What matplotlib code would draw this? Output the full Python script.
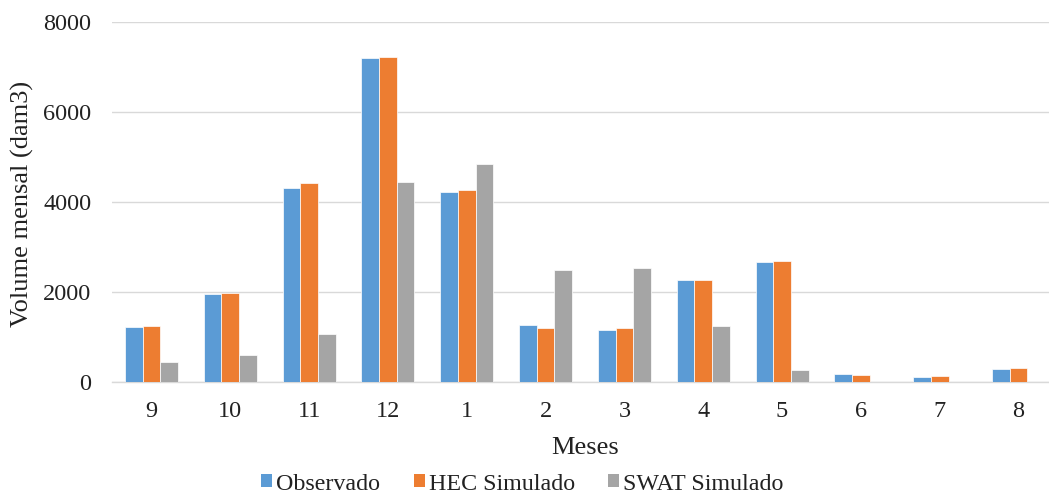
import matplotlib
matplotlib.use("Agg")
import matplotlib.pyplot as plt
import numpy as np
from matplotlib.patches import Patch

# Monthly volumes (dam3), hydrological year Sep -> Aug
months = ["9", "10", "11", "12", "1", "2", "3", "4", "5", "6", "7", "8"]
observado = [1210, 1945, 4310, 7210, 4230, 1260, 1140, 2260, 2655, 170, 110, 290]
hec_simulado = [1235, 1965, 4410, 7215, 4255, 1205, 1185, 2260, 2685, 140, 125, 310]
swat_simulado = [430, 590, 1055, 4440, 4845, 2495, 2530, 1230, 255, 0, 0, 0]

series_names = ["Observado", "HEC Simulado", "SWAT Simulado"]
colors = ["#5B9BD5", "#ED7D31", "#A5A5A5"]
text_color = "#222222"

plt.rcParams["font.family"] = ["Liberation Serif", "DejaVu Serif"]

W, H = 1049, 494
fig = plt.figure(figsize=(W / 100, H / 100), dpi=100)
left_px, right_px, top_px, bottom_px = 112, 1058, 22, 381.7
ax = fig.add_axes([left_px / W, 1 - bottom_px / H,
                   (right_px - left_px) / W, (bottom_px - top_px) / H])

x = np.arange(len(months))
w = 0.224
for k, (vals, c) in enumerate(zip([observado, hec_simulado, swat_simulado], colors)):
    ax.bar(x + (k - 1) * w, vals, width=w, color=c, edgecolor="white",
           linewidth=0.5, zorder=3)

ax.set_xlim(-0.5, len(months) - 0.5)
ax.set_ylim(0, 8000)
ax.set_yticks([0, 2000, 4000, 6000, 8000])
ax.set_xticks(x)
ax.set_xticklabels(months)

ax.grid(axis="y", color="#D9D9D9", linewidth=1.0, zorder=0)
for s in ["top", "right", "left"]:
    ax.spines[s].set_visible(False)
ax.spines["bottom"].set_color("#D9D9D9")
ax.spines["bottom"].set_linewidth(1.0)

ax.tick_params(axis="both", length=0, labelsize=17.5, colors=text_color)
ax.tick_params(axis="y", pad=15)
ax.tick_params(axis="x", pad=14)

fig.text(22 / W, 1 - 204 / H, "Volume mensal (dam3)", rotation=90,
         ha="center", va="center", fontsize=19, color=text_color)
fig.text(585 / W, 1 - 448 / H, "Meses", ha="center", va="center",
         fontsize=19, color=text_color)

handles = [Patch(facecolor=c, edgecolor="none") for c in colors]
leg = fig.legend(handles, series_names, loc="center", ncol=3,
                 bbox_to_anchor=(522.5 / W, 1 - 484 / H), frameon=False,
                 fontsize=17.3, handlelength=0.46, handleheight=0.46,
                 handletextpad=0.17, columnspacing=1.39, borderpad=0)
for t in leg.get_texts():
    t.set_color(text_color)

fig.savefig("out.png", dpi=100)
